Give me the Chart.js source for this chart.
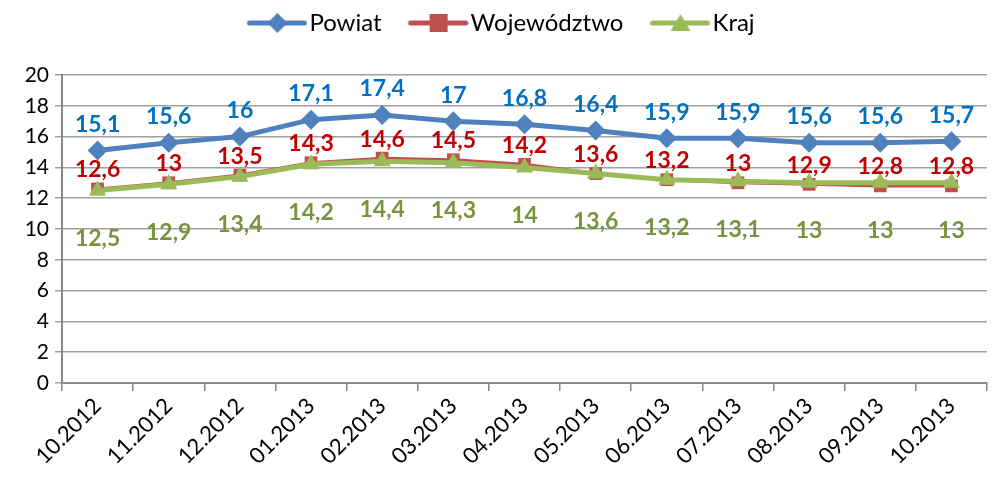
<!DOCTYPE html>
<html>
<head>
<meta charset="utf-8">
<script src="https://cdn.jsdelivr.net/npm/chart.js@4"></script>
<style>
  html, body { margin: 0; padding: 0; background: #fff; }
  #wrap { width: 997px; height: 479px; }
</style>
</head>
<body>
<div id="wrap"><canvas id="chart" width="997" height="479"></canvas></div>
<script>
const months = ["10.2012", "11.2012", "12.2012", "01.2013", "02.2013", "03.2013", "04.2013",
    "05.2013", "06.2013", "07.2013", "08.2013", "09.2013", "10.2013"];
const powiat = [15.1, 15.6, 16, 17.1, 17.4, 17, 16.8, 16.4, 15.9, 15.9, 15.6, 15.6, 15.7];
const wojewodztwo = [12.6, 13, 13.5, 14.3, 14.6, 14.5, 14.2, 13.6, 13.2, 13, 12.9, 12.8, 12.8];
const kraj = [12.5, 12.9, 13.4, 14.2, 14.4, 14.3, 14, 13.6, 13.2, 13.1, 13, 13, 13];
const yTicks = [0, 2, 4, 6, 8, 10, 12, 14, 16, 18, 20];

const FONT = "Lato, 'Open Sans', sans-serif";

// label colour + offset (px, negative = above the point)
const labelStyle = [
    { color: "#0070C0", dy: -26 },
    { color: "#C00000", dy: -19 },
    { color: "#77933C", dy: 48 }
];

function fmt(v) {
    return String(v).replace(".", ",");
}

// legend icon: short line with the marker in the middle
// (left part of the canvas is left empty so the text sits close to the icon)
function legendIcon(color, style) {
    const c = document.createElement("canvas");
    c.width = 80;
    c.height = 22;
    const ctx = c.getContext("2d");
    ctx.strokeStyle = color;
    ctx.lineWidth = 5;
    ctx.lineCap = "round";
    ctx.beginPath();
    ctx.moveTo(22, 11);
    ctx.lineTo(77, 11);
    ctx.stroke();
    ctx.fillStyle = color;
    ctx.beginPath();
    const cx = 50;
    if (style === "rectRot") {
        ctx.moveTo(cx, 1); ctx.lineTo(cx + 10, 11); ctx.lineTo(cx, 21); ctx.lineTo(cx - 10, 11);
    } else if (style === "rect") {
        ctx.rect(cx - 9, 2, 18, 18);
    } else {
        ctx.moveTo(cx, 2); ctx.lineTo(cx + 10, 19); ctx.lineTo(cx - 10, 19);
    }
    ctx.closePath();
    ctx.fill();
    return c;
}

const dataLabels = {
    id: "dataLabels",
    afterDatasetsDraw(chart) {
        const ctx = chart.ctx;
        ctx.save();
        ctx.font = "bold 23px " + FONT;
        ctx.textAlign = "center";
        ctx.textBaseline = "middle";
        chart.data.datasets.forEach((ds, i) => {
            const meta = chart.getDatasetMeta(i);
            meta.data.forEach((pt, j) => {
                ctx.fillStyle = labelStyle[i].color;
                ctx.fillText(fmt(ds.data[j]), pt.x, pt.y + labelStyle[i].dy);
            });
        });
        ctx.restore();
    }
};

// extra room under the legend
const legendGap = {
    id: "legendGap",
    beforeInit(chart) {
        const fit = chart.legend.fit;
        chart.legend.fit = function () {
            fit.bind(chart.legend)();
            this.height += 30;
        };
    }
};

const series = [
    { label: "Powiat", data: powiat, color: "#4F81BD", style: "rectRot", radius: 10, width: 5, order: 2 },
    { label: "Województwo", data: wojewodztwo, color: "#C0504D", style: "rect", radius: 9, width: 3, order: 1 },
    { label: "Kraj", data: kraj, color: "#9BBB59", style: "triangle", radius: 10, width: 5, order: 0 }
];

new Chart(document.getElementById("chart").getContext("2d"), {
    type: "line",
    data: {
        labels: months,
        datasets: series.map(s => ({
            label: s.label,
            data: s.data,
            order: s.order,
            borderColor: s.color,
            backgroundColor: s.color,
            borderWidth: s.width,
            pointStyle: s.style,
            pointRadius: s.radius,
            pointHoverRadius: s.radius,
            pointBorderWidth: 0,
            tension: 0
        }))
    },
    options: {
        responsive: false,
        animation: false,
        layout: { padding: { left: 0, right: 5, top: -6, bottom: 0 } },
        plugins: {
            tooltip: { enabled: false },
            legend: {
                position: "top",
                labels: {
                    font: { family: FONT, size: 24 },
                    color: "#000",
                    usePointStyle: true,
                    pointStyleWidth: 60,
                    boxHeight: 22,
                    padding: 17,
                    generateLabels(chart) {
                        return series.map((s, i) => ({
                            text: s.label,
                            pointStyle: legendIcon(s.color, s.style),
                            fillStyle: s.color,
                            strokeStyle: s.color,
                            lineWidth: 0,
                            datasetIndex: i,
                            hidden: false
                        }));
                    }
                }
            }
        },
        scales: {
            x: {
                offset: true,
                grid: {
                    offset: true,
                    drawOnChartArea: false,
                    drawTicks: true,
                    tickLength: 8,
                    color: "#888",
                    lineWidth: 1.5
                },
                border: { color: "#888", width: 2 },
                ticks: {
                    font: { family: FONT, size: 22 },
                    color: "#000",
                    maxRotation: 45,
                    minRotation: 45,
                    padding: 2
                },
                afterFit(scale) { scale.height = 96; }
            },
            y: {
                min: 0,
                max: 20,
                afterBuildTicks(scale) {
                    scale.ticks = yTicks.map(v => ({ value: v }));
                },
                grid: {
                    color: "#A0A0A0",
                    lineWidth: 1.5,
                    tickLength: 7
                },
                border: { color: "#888", width: 2 },
                ticks: {
                    font: { family: FONT, size: 21 },
                    color: "#000",
                    padding: 6
                },
                afterFit(scale) { scale.width = 62; }
            }
        }
    },
    plugins: [dataLabels, legendGap]
});
</script>
</body>
</html>
